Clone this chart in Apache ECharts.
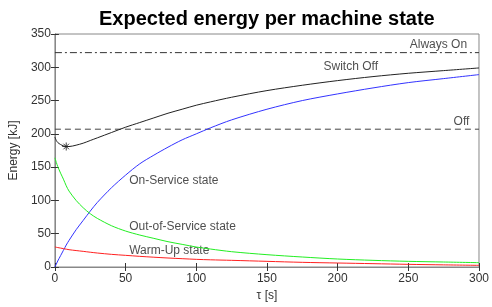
<!DOCTYPE html>
<html>
<head>
<meta charset="utf-8">
<title>Expected energy per machine state</title>
<script src="https://cdn.jsdelivr.net/npm/echarts@6/dist/echarts.min.js"></script>
<style>
html,body{margin:0;padding:0;background:#fff;}
#mychart{width:492px;height:307px;}
</style>
</head>
<body>
<div id="mychart"></div>
<script>
var tau = [0, 1, 2, 4, 6, 8, 10, 15, 20, 25, 30, 40, 50, 60, 70, 80, 90, 100, 110, 125, 150, 175, 200, 225, 250, 275, 300];
var switchOff = [195, 190, 187, 184, 182, 181, 181, 183, 186, 190, 194, 202, 210, 217, 224, 231, 237, 243, 248, 255, 265, 273, 280, 286, 291, 295, 299];
var onService = [0, 4.5, 9, 17, 25, 33, 40, 56, 70, 84, 97, 119, 138, 155, 168, 180, 191, 200, 209, 221, 237, 250, 260, 269, 277, 283, 289];
var outOfService = [164, 157, 151, 141, 132, 122, 114, 100, 89, 80, 73, 62, 54, 48, 43, 38, 34, 30, 27, 23, 18.5, 15, 12, 10, 8.5, 7.5, 6.5];
var warmUp = [30, 29.6, 29.2, 28.4, 27.6, 26.8, 26, 24.7, 23.5, 22.2, 21, 19, 17.5, 16, 14.7, 13.5, 12.5, 11.5, 10.8, 10, 8.5, 7, 6, 5, 4, 3.2, 2.5];
var alwaysOn = 322;
var offLevel = 207;
var minTau = [8];
var minEnergy = [181];
var xTicks = [0, 50, 100, 150, 200, 250, 300];
var yTicks = [0, 50, 100, 150, 200, 250, 300, 350];
var noteText = ['Always On', 'Switch Off', 'Off', 'On-Service state', 'Out-of-Service state', 'Warm-Up state'];
var noteTau = [251, 190, 282, 52.5, 52.5, 52.5];
var noteEnergy = [334, 301, 219, 129, 60, 25];

function pairs(xs, ys) {
    var out = [];
    for (var i = 0; i < xs.length; i++) {
        out.push([xs[i], ys[i]]);
    }
    return out;
}

var myChart = echarts.init(document.getElementById('mychart'), null, {renderer: 'canvas'});
var font = "'Liberation Sans', Arial, Helvetica, sans-serif";

var notes = [];
for (var i = 0; i < noteText.length; i++) {
    notes.push({name: noteText[i], value: [noteTau[i], noteEnergy[i]]});
}

function lineSeries(name, ys, color) {
    return {
        name: name,
        type: 'line',
        data: pairs(tau, ys),
        showSymbol: false,
        smooth: 0.3,
        lineStyle: {color: color, width: 1},
        animation: false
    };
}

var axisCommon = {
    type: 'value',
    splitLine: {show: false},
    axisTick: {show: true, inside: true, length: 4, lineStyle: {color: '#333'}},
    axisLine: {show: true, lineStyle: {color: '#888'}}
};

var option = {
    backgroundColor: '#fff',
    textStyle: {fontFamily: font},
    title: {
        text: 'Expected energy per machine state',
        left: 94,
        top: 4,
        textStyle: {fontFamily: font, fontSize: 20, fontWeight: 'bold', color: '#000'}
    },
    grid: {
        left: 52,
        right: 10,
        top: 34,
        bottom: 40,
        show: true,
        borderColor: '#888',
        borderWidth: 1
    },
    xAxis: [
        echarts.util.merge({
            min: xTicks[0],
            max: xTicks[xTicks.length - 1],
            interval: xTicks[1] - xTicks[0],
            position: 'bottom',
            name: 'τ [s]',
            nameLocation: 'middle',
            nameGap: 23,
            nameTextStyle: {fontFamily: font, fontSize: 12, color: '#333'},
            axisLine: {lineStyle: {color: '#333'}},
            axisLabel: {fontFamily: font, fontSize: 12, color: '#333', margin: 6}
        }, axisCommon),
        echarts.util.merge({
            min: xTicks[0],
            max: xTicks[xTicks.length - 1],
            interval: xTicks[1] - xTicks[0],
            position: 'top',
            axisLabel: {show: false}
        }, axisCommon)
    ],
    yAxis: [
        echarts.util.merge({
            min: yTicks[0],
            max: yTicks[yTicks.length - 1],
            interval: yTicks[1] - yTicks[0],
            position: 'left',
            name: 'Energy [kJ]',
            nameLocation: 'middle',
            nameGap: 32,
            nameTextStyle: {fontFamily: font, fontSize: 12, color: '#333'},
            axisLabel: {fontFamily: font, fontSize: 12, color: '#333', margin: 4}
        }, axisCommon),
        echarts.util.merge({
            min: yTicks[0],
            max: yTicks[yTicks.length - 1],
            interval: yTicks[1] - yTicks[0],
            position: 'right',
            axisLabel: {show: false}
        }, axisCommon)
    ],
    series: [
        {
            name: 'Always On',
            type: 'line',
            data: [[xTicks[0], alwaysOn], [xTicks[xTicks.length - 1], alwaysOn]],
            showSymbol: false,
            lineStyle: {color: '#333', width: 1, type: [7, 3, 2, 3]},
            animation: false
        },
        {
            name: 'Off',
            type: 'line',
            data: [[xTicks[0], offLevel], [xTicks[xTicks.length - 1], offLevel]],
            showSymbol: false,
            lineStyle: {color: '#444', width: 1, type: [6, 4]},
            animation: false
        },
        lineSeries('Switch Off', switchOff, '#222'),
        lineSeries('On-Service state', onService, '#3333ff'),
        lineSeries('Out-of-Service state', outOfService, '#22ee22'),
        lineSeries('Warm-Up state', warmUp, '#ff2020'),
        {
            name: 'minimum',
            type: 'scatter',
            data: pairs(minTau, minEnergy),
            symbol: 'path://M0,5L10,5M5,0L5,10M1.5,1.5L8.5,8.5M8.5,1.5L1.5,8.5',
            symbolSize: 8,
            itemStyle: {color: 'none', borderColor: '#111', borderWidth: 1},
            animation: false
        },
        {
            name: 'notes',
            type: 'scatter',
            data: notes,
            symbolSize: 0,
            silent: true,
            label: {
                show: true,
                position: 'right',
                distance: 0,
                formatter: '{b}',
                fontFamily: font,
                fontSize: 12,
                color: '#222'
            },
            animation: false
        }
    ]
};

if (option && typeof option === "object") {
    myChart.setOption(option, true);
}
</script>
</body>
</html>
